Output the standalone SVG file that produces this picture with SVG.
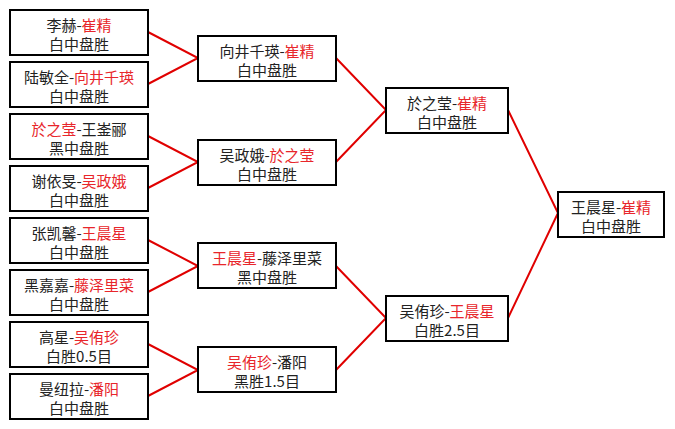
<svg xmlns="http://www.w3.org/2000/svg" width="675" height="429" viewBox="0 0 675 429">
<style>
.box{fill:#fff;stroke:#000;stroke-width:2}
.t{font-family:"Noto Sans CJK SC","Noto Sans",sans-serif;font-size:15px;fill:#222;text-anchor:middle}
.r{fill:#e8262b}
.c{fill:none;stroke:#e00000;stroke-width:2}
</style>
<rect width="675" height="429" fill="#fff"/>
<g id="connectors">
<polyline class="c" points="148,32 198,58 148,84"/>
<polyline class="c" points="148,136 198,162 148,188"/>
<polyline class="c" points="148,240 198,266 148,292"/>
<polyline class="c" points="148,344 198,370 148,396"/>
<polyline class="c" points="336,58 386,110 336,162"/>
<polyline class="c" points="336,266 386,318 336,370"/>
<polyline class="c" points="508,110 558,213 508,318"/>
</g>
<g id="n1"><rect class="box" x="10" y="10" width="138" height="45"/><text class="t" x="79" y="30.5">李赫-<tspan class="r">崔精</tspan></text><text class="t" x="79" y="49.5">白中盘胜</text></g>
<g id="n2"><rect class="box" x="10" y="62" width="138" height="45"/><text class="t" x="79" y="82.5">陆敏全-<tspan class="r">向井千瑛</tspan></text><text class="t" x="79" y="101.5">白中盘胜</text></g>
<g id="n3"><rect class="box" x="10" y="114" width="138" height="45"/><text class="t" x="79" y="134.5"><tspan class="r">於之莹</tspan>-王崟郦</text><text class="t" x="79" y="153.5">黑中盘胜</text></g>
<g id="n4"><rect class="box" x="10" y="166" width="138" height="45"/><text class="t" x="79" y="186.5">谢依旻-<tspan class="r">吴政娥</tspan></text><text class="t" x="79" y="205.5">白中盘胜</text></g>
<g id="n5"><rect class="box" x="10" y="218" width="138" height="45"/><text class="t" x="79" y="238.5">张凯馨-<tspan class="r">王晨星</tspan></text><text class="t" x="79" y="257.5">白中盘胜</text></g>
<g id="n6"><rect class="box" x="10" y="270" width="138" height="45"/><text class="t" x="79" y="290.5">黑嘉嘉-<tspan class="r">藤泽里菜</tspan></text><text class="t" x="79" y="309.5">白中盘胜</text></g>
<g id="n7"><rect class="box" x="10" y="322" width="138" height="45"/><text class="t" x="79" y="342.5">高星-<tspan class="r">吴侑珍</tspan></text><text class="t" x="79" y="361.5">白胜0.5目</text></g>
<g id="n8"><rect class="box" x="10" y="374" width="138" height="45"/><text class="t" x="79" y="394.5">曼纽拉-<tspan class="r">潘阳</tspan></text><text class="t" x="79" y="413.5">白中盘胜</text></g>
<g id="m1"><rect class="box" x="198" y="36" width="138" height="45"/><text class="t" x="267" y="56.5">向井千瑛-<tspan class="r">崔精</tspan></text><text class="t" x="267" y="75.5">白中盘胜</text></g>
<g id="m2"><rect class="box" x="198" y="140" width="138" height="45"/><text class="t" x="267" y="160.5">吴政娥-<tspan class="r">於之莹</tspan></text><text class="t" x="267" y="179.5">白中盘胜</text></g>
<g id="m3"><rect class="box" x="198" y="243" width="138" height="45"/><text class="t" x="267" y="263.5"><tspan class="r">王晨星</tspan>-藤泽里菜</text><text class="t" x="267" y="282.5">黑中盘胜</text></g>
<g id="m4"><rect class="box" x="198" y="347" width="138" height="45"/><text class="t" x="267" y="367.5"><tspan class="r">吴侑珍</tspan>-潘阳</text><text class="t" x="267" y="386.5">黑胜1.5目</text></g>
<g id="s1"><rect class="box" x="386" y="88" width="122" height="45"/><text class="t" x="447" y="108.5">於之莹-<tspan class="r">崔精</tspan></text><text class="t" x="447" y="127.5">白中盘胜</text></g>
<g id="s2"><rect class="box" x="386" y="296" width="122" height="45"/><text class="t" x="447" y="316.5">吴侑珍-<tspan class="r">王晨星</tspan></text><text class="t" x="447" y="335.5">白胜2.5目</text></g>
<g id="f"><rect class="box" x="558" y="192" width="106" height="45"/><text class="t" x="611" y="212.5">王晨星-<tspan class="r">崔精</tspan></text><text class="t" x="611" y="231.5">白中盘胜</text></g>
</svg>
